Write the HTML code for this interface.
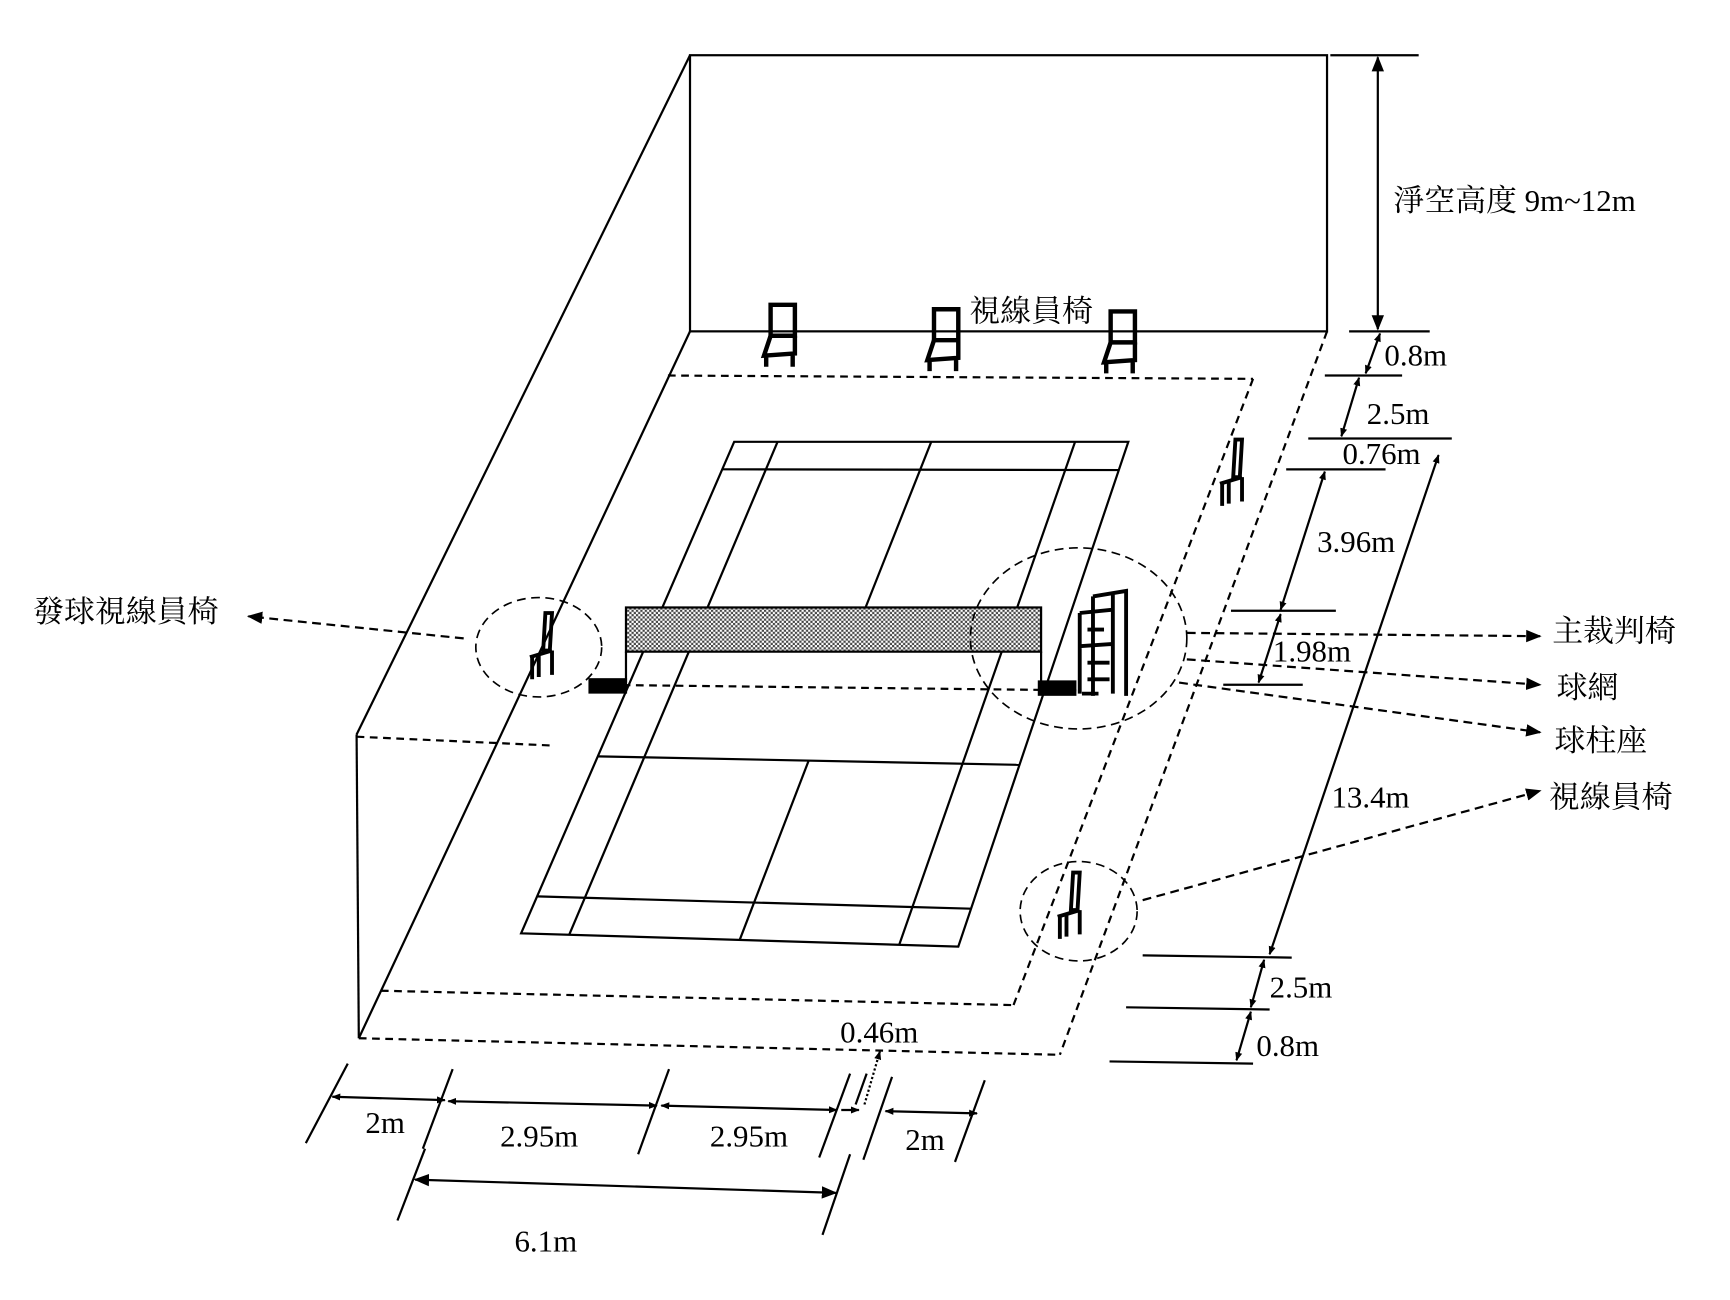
<!DOCTYPE html>
<html><head><meta charset="utf-8"><style>
html,body{margin:0;padding:0;background:#fff;}
svg{display:block}
text{font-family:"Liberation Serif","Noto Serif CJK TC","Noto Serif CJK SC",serif;font-size:28px;fill:#000}
</style></head><body>
<svg width="1730" height="1300" viewBox="0 0 1567 1177" preserveAspectRatio="none" xmlns="http://www.w3.org/2000/svg">
<defs>
<marker id="a" viewBox="0 0 10 10" refX="9" refY="5" markerWidth="8" markerHeight="8" orient="auto-start-reverse" markerUnits="userSpaceOnUse"><path d="M0,1 L10,5 L0,9 z" fill="#000"/></marker>
<marker id="b" viewBox="0 0 10 10" refX="9" refY="5" markerWidth="14" markerHeight="14" orient="auto-start-reverse" markerUnits="userSpaceOnUse"><path d="M0,1 L10,5 L0,9 z" fill="#000"/></marker>
<pattern id="chk" width="4" height="4" patternUnits="userSpaceOnUse"><rect width="4" height="4" fill="#fff"/><rect width="2" height="2" fill="#444"/><rect x="2" y="2" width="2" height="2" fill="#444"/></pattern>
<g id="chair" fill="none" stroke="#000" stroke-width="4">
<path d="M8,0 L30,0 L30,28 L8,28 Z"/>
<path d="M8,28 L2,46 L30,44 L30,28 M4,46 L4,56 M28,44 L28,56"/>
</g>
<g id="schair" fill="none" stroke="#000" stroke-width="3.5">
<path d="M14,0 L20,0 L18,34 L12,34 Z"/>
<path d="M0,40 L20,34 M2,40 L2,60 M8,38 L8,58 M20,34 L20,56"/>
</g>
</defs>
<g fill="none" stroke="#000" stroke-width="2">
<rect x="625" y="50" width="577" height="250"/>
<line x1="625" y1="50" x2="323" y2="665"/>
<line x1="323" y1="665" x2="325" y2="940"/>
<line x1="625" y1="300" x2="325" y2="940"/>
<g stroke-dasharray="7,5">
<line x1="323" y1="667" x2="500" y2="675"/>
<line x1="1202" y1="300" x2="960" y2="955"/>
<line x1="325" y1="940" x2="960" y2="955"/>
<line x1="605" y1="340" x2="1135" y2="343"/>
<line x1="1135" y1="343" x2="918" y2="910"/>
<line x1="345" y1="897" x2="918" y2="910"/>
</g>
<path d="M665,400 L1022,400 L868,857 L472,845 Z"/>
<line x1="654.2" y1="424.9" x2="1013.4" y2="425.6"/>
<line x1="541.5" y1="684.8" x2="923.4" y2="692.5"/>
<line x1="486.5" y1="811.6" x2="879.5" y2="822.7"/>
<line x1="704.3" y1="400" x2="515.6" y2="846.3"/>
<line x1="973.8" y1="400" x2="814.5" y2="855.4"/>
<line x1="843.5" y1="400" x2="784" y2="550"/>
<line x1="732.5" y1="688.6" x2="670" y2="851"/>
<line x1="540" y1="620" x2="975" y2="625" stroke-dasharray="7,5"/>
</g>
<rect x="567" y="550" width="376" height="40" fill="url(#chk)" stroke="#000" stroke-width="2"/>
<line x1="567" y1="590" x2="567" y2="618" stroke="#000" stroke-width="2"/>
<line x1="943" y1="590" x2="943" y2="620" stroke="#000" stroke-width="2"/>
<rect x="533" y="614" width="35" height="14" fill="#000"/>
<rect x="940" y="616" width="35" height="14" fill="#000"/>
<g fill="none" stroke="#000" stroke-width="3.5">
<path d="M990,540 L1020,535 L1020,630 M990,540 L990,630 M1008,537 L1008,628 M978,555 L1008,552 M978,555 L978,628 M985,570 L1000,570 M978,585 L1008,583 M985,600 L1005,600 M985,615 L1005,615 M980,628 L995,628"/>
</g>
<use href="#chair" x="690" y="276"/>
<use href="#chair" x="838" y="280"/>
<use href="#chair" x="998" y="282"/>
<use href="#schair" x="1105" y="398"/>
<use href="#schair" x="480" y="555"/>
<use href="#schair" x="958" y="790"/>
<g fill="none" stroke="#000" stroke-width="1.5" stroke-dasharray="8,5">
<ellipse cx="488" cy="586" rx="57" ry="45"/>
<ellipse cx="977" cy="578" rx="98" ry="82"/>
<ellipse cx="977" cy="825" rx="53" ry="45"/>
</g>
<g fill="none" stroke="#000" stroke-width="2" stroke-dasharray="8,5">
<line x1="420" y1="578" x2="225" y2="558" marker-end="url(#b)"/>
<line x1="1075" y1="573" x2="1395" y2="576" marker-end="url(#b)"/>
<line x1="1075" y1="597" x2="1395" y2="620" marker-end="url(#b)"/>
<line x1="1068" y1="618" x2="1395" y2="663" marker-end="url(#b)"/>
<line x1="1035" y1="815" x2="1395" y2="716" marker-end="url(#b)"/>
</g>
<text x="30" y="563">發球視線員椅</text>
<text x="1406" y="581">主裁判椅</text>
<text x="1410" y="632">球網</text>
<text x="1408" y="680">球柱座</text>
<text x="1403" y="731">視線員椅</text>
<text x="878" y="291">視線員椅</text>
<g fill="none" stroke="#000" stroke-width="2">
<line x1="1205" y1="50" x2="1285" y2="50"/>
<line x1="1222" y1="300" x2="1295" y2="300"/>
<line x1="1248" y1="52" x2="1248" y2="298" marker-start="url(#b)" marker-end="url(#b)"/>
<line x1="1200" y1="340" x2="1270" y2="340"/>
<line x1="1250" y1="302" x2="1237" y2="338" marker-start="url(#a)" marker-end="url(#a)"/>
<line x1="1231" y1="342" x2="1215" y2="395" marker-start="url(#a)" marker-end="url(#a)"/>
<line x1="1185" y1="397" x2="1315" y2="397"/>
<line x1="1165" y1="425" x2="1255" y2="425"/>
<line x1="1200" y1="427" x2="1160" y2="552" marker-start="url(#a)" marker-end="url(#a)"/>
<line x1="1115" y1="553" x2="1210" y2="553"/>
<line x1="1160" y1="556" x2="1140" y2="618" marker-start="url(#a)" marker-end="url(#a)"/>
<line x1="1108" y1="620" x2="1180" y2="620"/>
<line x1="1303" y1="412" x2="1150" y2="864" marker-start="url(#a)" marker-end="url(#a)"/>
<line x1="1035" y1="865" x2="1170" y2="867"/>
<line x1="1145" y1="869" x2="1133" y2="912" marker-start="url(#a)" marker-end="url(#a)"/>
<line x1="1020" y1="912" x2="1150" y2="914"/>
<line x1="1133" y1="916" x2="1120" y2="960" marker-start="url(#a)" marker-end="url(#a)"/>
<line x1="1005" y1="961" x2="1135" y2="963"/>
</g>
<text x="1262" y="191">淨空高度 9m~12m</text>
<text x="1254" y="331">0.8m</text>
<text x="1238" y="384">2.5m</text>
<text x="1216" y="420">0.76m</text>
<text x="1193" y="500">3.96m</text>
<text x="1153" y="599">1.98m</text>
<text x="1206" y="731">13.4m</text>
<text x="1150" y="903">2.5m</text>
<text x="1138" y="956">0.8m</text>
<g fill="none" stroke="#000" stroke-width="2">
<line x1="277" y1="1035" x2="315" y2="963"/>
<line x1="383" y1="1040" x2="410" y2="968"/>
<line x1="578" y1="1045" x2="606" y2="968"/>
<line x1="742" y1="1048" x2="770" y2="972"/>
<line x1="775" y1="1000" x2="785" y2="972"/>
<line x1="782" y1="1050" x2="808" y2="975"/>
<line x1="865" y1="1052" x2="892" y2="978"/>
<line x1="360" y1="1105" x2="385" y2="1040"/>
<line x1="745" y1="1118" x2="770" y2="1045"/>
<line x1="301" y1="993" x2="403" y2="996" marker-start="url(#a)" marker-end="url(#a)"/>
<line x1="406" y1="997" x2="595" y2="1001" marker-start="url(#a)" marker-end="url(#a)"/>
<line x1="599" y1="1001" x2="758" y2="1005" marker-start="url(#a)" marker-end="url(#a)"/>
<line x1="762" y1="1005" x2="778" y2="1005" marker-end="url(#a)"/>
<line x1="802" y1="1006" x2="885" y2="1008" marker-start="url(#a)" marker-end="url(#a)"/>
<line x1="376" y1="1068" x2="757" y2="1080" marker-start="url(#b)" marker-end="url(#b)"/>
<line x1="783" y1="1000" x2="797" y2="952" stroke-dasharray="2,2" marker-end="url(#a)"/>
</g>
<text x="331" y="1026">2m</text>
<text x="453" y="1038">2.95m</text>
<text x="643" y="1038">2.95m</text>
<text x="820" y="1041">2m</text>
<text x="761" y="944">0.46m</text>
<text x="466" y="1133">6.1m</text>
</svg>
</body></html>
